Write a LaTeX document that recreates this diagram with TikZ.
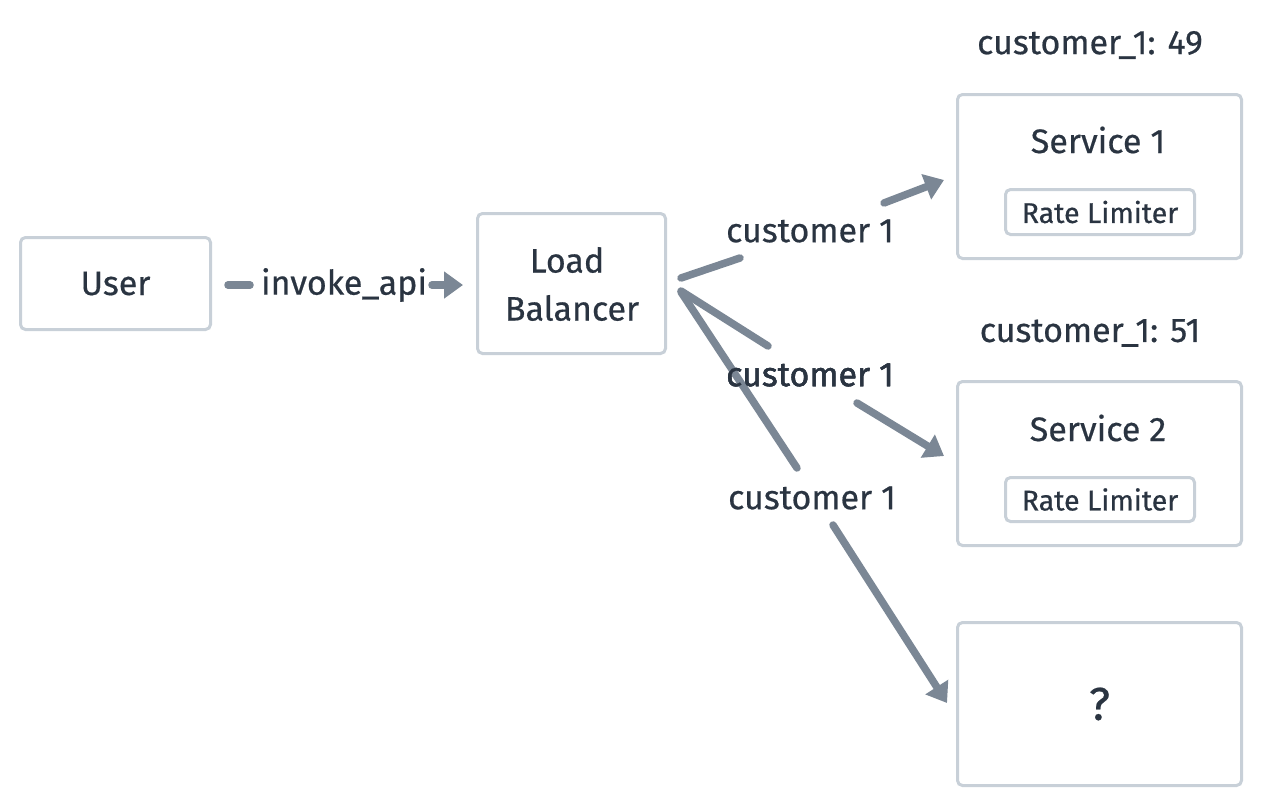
\documentclass[tikz,border=0pt]{standalone}
\usepackage{fontspec}
\setmainfont{Fira Sans}
\newfontfamily\medf[FakeBold=0.5]{Fira Sans}
\usetikzlibrary{arrows.meta}
\definecolor{bordc}{HTML}{C8D0D8}
\definecolor{arrc}{HTML}{7B8795}
\definecolor{txtc}{HTML}{2A3441}
\tikzset{
  box/.style={draw=bordc, line width=3pt, rounded corners=5pt, fill=white, inner sep=0pt, text=txtc, font=\medf\fontsize{34}{40}\selectfont},
  rlbox/.style={box, font=\medf\fontsize{28.5}{33}\selectfont},
  lab/.style={text=txtc, inner sep=0pt, font=\medf\fontsize{34}{40}\selectfont},
  conn/.style={draw=arrc, line width=7.5pt, line cap=round, line join=round},
  tip/.style={conn, -{Triangle[length=19pt,width=26pt]}},
}
\begin{document}
\begin{tikzpicture}[x=1pt,y=-1pt]
\useasboundingbox (0,0) rectangle (1264,808);
\fill[white] (0,0) rectangle (1264,808);
% boxes
\node[box, minimum width=190pt, minimum height=92pt] (user) at (115.5,283.5) {User};
\node[box, minimum width=188pt, minimum height=140pt, align=center] (lb) at (571.5,283.5) {};
\node[lab] (lbt1) at (567,260) {Load};
\node[lab] (lbt2) at (572,308) {Balancer};
\node[box, minimum width=284pt, minimum height=164pt] (s1) at (1099.5,176.5) {};
\node[lab] (s1t) at (1098,140) {Service 1};
\node[rlbox, minimum width=189pt, minimum height=45pt] (rl1) at (1100,212) {Rate Limiter};
\node[box, minimum width=284pt, minimum height=164pt] (s2) at (1099.5,463.5) {};
\node[lab] (s2t) at (1098,428) {Service 2};
\node[rlbox, minimum width=189pt, minimum height=44pt] (rl2) at (1100,499.5) {Rate Limiter};
\node[box, minimum width=284pt, minimum height=163pt, font=\medf\fontsize{46}{52}\selectfont] (q) at (1099.5,704) {?};
\node[lab] (c49) at (1090,45) {customer\_1: 49};
\node[lab] (c51) at (1090,333) {customer\_1: 51};
% labels
\node[lab] (inv) at (344,285) {invoke\_api};
\node[lab] (l1) at (810,231) {customer 1};
\node[lab] (l2) at (810,375) {customer 1};
\node[lab] (l3) at (812,498) {customer 1};
% connector points
\coordinate (u0) at (228,285);
\coordinate (u1) at (250,285);
\coordinate (u2) at (432,285);
\coordinate (u3) at (463,285);
\coordinate (a0) at (681,278);
\coordinate (a1) at (740,258);
\coordinate (a2) at (884,203);
\coordinate (a3) at (944,180);
\coordinate (b0) at (681,291);
\coordinate (b1) at (768,346);
\coordinate (b2) at (857,403);
\coordinate (b3) at (944,456);
\coordinate (c0) at (681,292);
\coordinate (c1) at (797,468);
\coordinate (c2) at (833,525);
\coordinate (c3) at (947,703);
% connectors
\draw[conn] (u0) -- (u1);
\draw[tip] (u2) -- (u3);
\draw[conn] (a0) -- (a1);
\draw[tip] (a2) -- (a3);
\draw[conn] (b0) -- (b1);
\draw[tip] (b2) -- (b3);
\draw[conn] (c0) -- (c1);
\draw[tip] (c2) -- (c3);
% label drawn over its line
\node[lab] at (l2) {customer 1};
\end{tikzpicture}
\end{document}
